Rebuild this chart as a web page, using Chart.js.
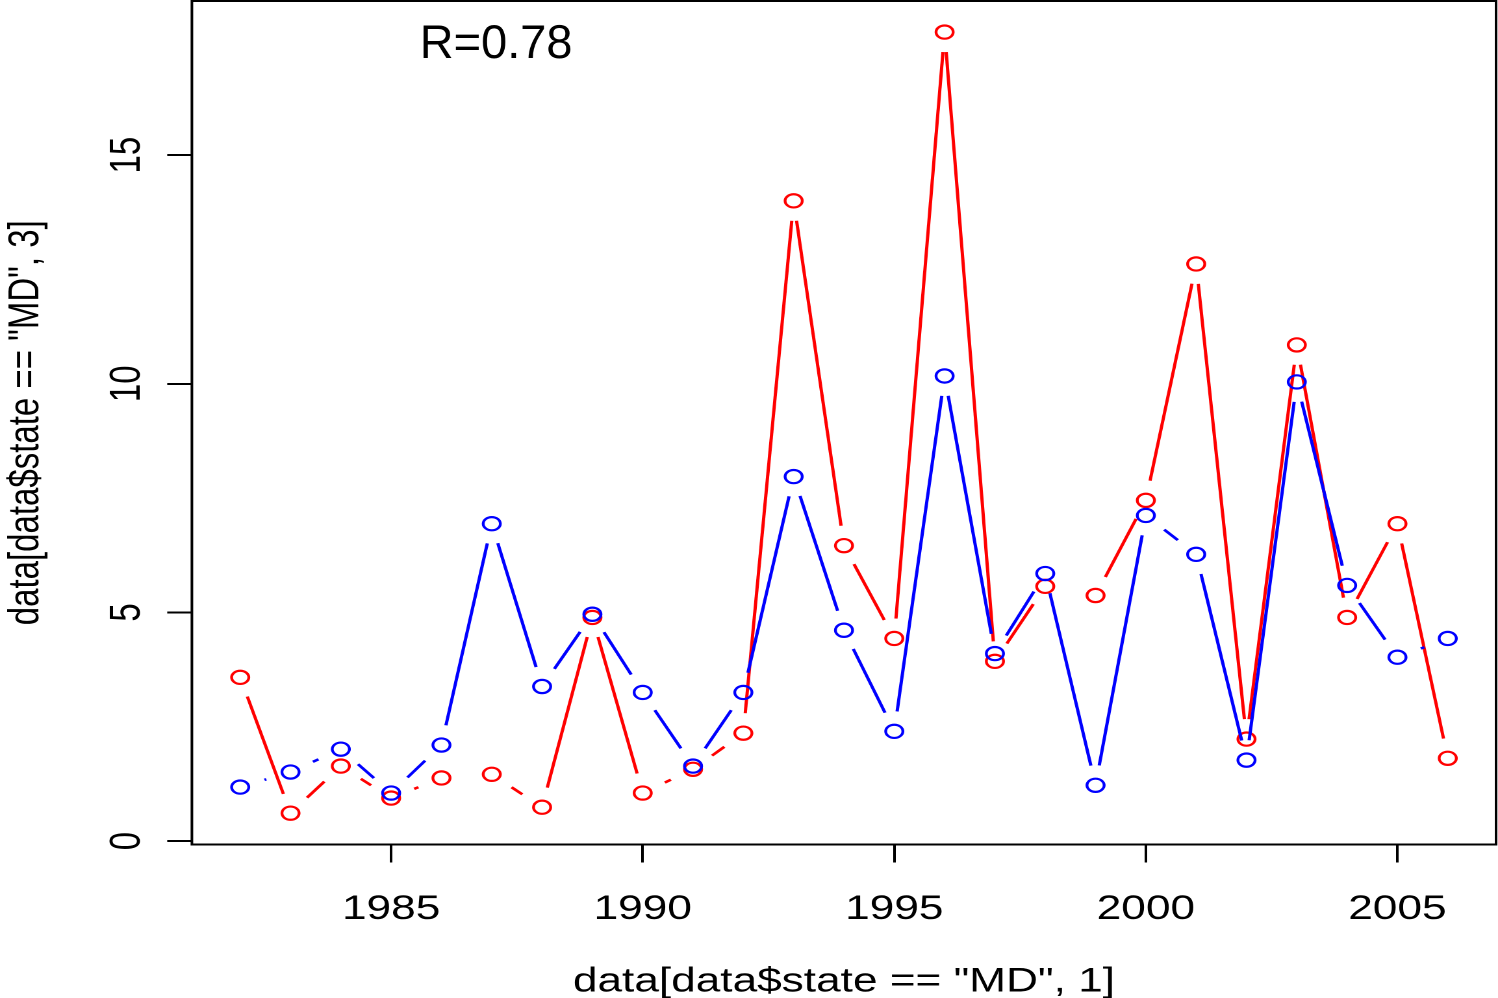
<!DOCTYPE html>
<html>
<head>
<meta charset="utf-8">
<script src="https://cdn.jsdelivr.net/npm/chart.js@4/dist/chart.umd.min.js"></script>
<style>
  html, body { margin: 0; padding: 0; background: #fff; overflow: hidden; }
  #wrap { width: 1153px; height: 998px; transform-origin: 0 0; transform: scaleX(1.29922); }
</style>
</head>
<body>
<div id="wrap"><canvas id="c" width="1153" height="998"></canvas></div>
<script>
// ---- data ----
const years = [1982,1983,1984,1985,1986,1987,1988,1989,1990,1991,1992,1993,1994,1995,1996,1997,1998,1999,2000,2001,2002,2003,2004,2005,2006];
const redValues  = [3.58,0.61,1.64,0.94,1.38,1.46,0.74,4.89,1.05,1.57,2.36,14.0,6.46,4.43,17.69,3.93,5.57,5.37,7.45,12.62,2.23,10.85,4.89,6.94,1.81];
const blueValues = [1.18,1.51,2.01,1.05,2.10,6.94,3.38,4.96,3.25,1.64,3.25,7.97,4.61,2.40,10.17,4.10,5.85,1.22,7.12,6.27,1.77,10.04,5.59,4.02,4.43];
const xTicks = [1985,1990,1995,2000,2005];
const xTickLabels = ["1985","1990","1995","2000","2005"];
const yTicks = [0,5,10,15];
const yTickLabels = ["0","5","10","15"];
const xTitle = 'data[data$state == "MD", 1]';
const yTitle = 'data[data$state == "MD", 3]';
const annotationText = 'R=0.78';

const FONT = "'Liberation Sans', Arial, Helvetica, sans-serif";
const STRETCH = 1.29922;

function pts(vals) { return years.map((y, i) => ({x: y, y: vals[i]})); }

function zeroPad(s) { s.paddingLeft = 0; s.paddingRight = 0; s.paddingTop = 0; s.paddingBottom = 0; }

// R type="b": line segments with gaps around points
const gappedLines = {
  id: 'gappedLines',
  afterDatasetDraw(chart, args) {
    const meta = args.meta;
    const ds = chart.data.datasets[args.index];
    const gap = 20;
    const ctx = chart.ctx;
    const a = chart.chartArea;
    ctx.save();
    ctx.beginPath();
    ctx.rect(a.left, a.top, a.right - a.left, a.bottom - a.top);
    ctx.clip();
    ctx.strokeStyle = ds.borderColor;
    ctx.lineWidth = 2.5;
    ctx.lineCap = 'butt';
    for (let i = 0; i < meta.data.length - 1; i++) {
      const p0 = meta.data[i], p1 = meta.data[i + 1];
      const dx = p1.x - p0.x, dy = p1.y - p0.y;
      const len = Math.hypot(dx, dy);
      if (len <= 2 * gap) continue;
      const ux = dx / len, uy = dy / len;
      ctx.beginPath();
      ctx.moveTo(p0.x + ux * gap, p0.y + uy * gap);
      ctx.lineTo(p1.x - ux * gap, p1.y - uy * gap);
      ctx.stroke();
    }
    ctx.restore();
  }
};

const frameAndText = {
  id: 'frameAndText',
  afterDraw(chart) {
    const ctx = chart.ctx;
    const a = chart.chartArea;
    ctx.save();
    ctx.strokeStyle = '#000';
    ctx.lineWidth = 2;
    ctx.strokeRect(a.left, a.top, a.right - a.left, a.bottom - a.top);
    // annotation text (not stretched in the reference)
    ctx.translate(323, 58);
    ctx.scale(1 / STRETCH, 1);
    ctx.fillStyle = '#000';
    ctx.font = "47px " + FONT;
    ctx.textAlign = 'left';
    ctx.textBaseline = 'alphabetic';
    ctx.fillText(annotationText, 0, 0);
    ctx.restore();
  }
};

new Chart(document.getElementById('c'), {
  type: 'scatter',
  data: {
    datasets: [
      {
        label: 'red',
        data: pts(redValues),
        borderColor: '#ff0000',
        backgroundColor: 'rgba(0,0,0,0)',
        pointBorderColor: '#ff0000',
        pointBackgroundColor: 'rgba(0,0,0,0)',
        pointRadius: 6.6,
        pointBorderWidth: 2.2,
        showLine: false,
        order: 1
      },
      {
        label: 'blue',
        data: pts(blueValues),
        borderColor: '#0000ff',
        backgroundColor: 'rgba(0,0,0,0)',
        pointBorderColor: '#0000ff',
        pointBackgroundColor: 'rgba(0,0,0,0)',
        pointRadius: 6.6,
        pointBorderWidth: 2.2,
        showLine: false,
        order: 0
      }
    ]
  },
  options: {
    responsive: false,
    animation: false,
    devicePixelRatio: 2,
    layout: { autoPadding: false, padding: { left: 0, right: 1.5, top: 1, bottom: 0 } },
    plugins: { legend: { display: false }, tooltip: { enabled: false } },
    scales: {
      x: {
        type: 'linear',
        position: 'bottom',
        min: 1981.04,
        max: 2006.96,
        afterBuildTicks: (s) => { s.ticks = xTicks.map(v => ({value: v})); },
        afterFit: (s) => { s.height = 153.5; zeroPad(s); },
        grid: { drawOnChartArea: false, drawTicks: true, tickLength: 18, tickWidth: 2, tickColor: '#000' },
        border: { display: false },
        ticks: {
          color: '#000',
          font: { family: FONT, size: 34, lineHeight: 1 },
          padding: 30,
          maxRotation: 0, minRotation: 0,
          autoSkip: false,
          callback: (v) => { const i = xTicks.indexOf(v); return i >= 0 ? xTickLabels[i] : ''; }
        },
        title: {
          display: true, text: xTitle, color: '#000',
          font: { family: FONT, size: 34, lineHeight: 1 },
          padding: { top: 0, bottom: -1 }
        }
      },
      y: {
        type: 'linear',
        position: 'left',
        min: -0.075,
        max: 18.37,
        afterBuildTicks: (s) => { s.ticks = yTicks.map(v => ({value: v})); },
        afterFit: (s) => { s.width = 147.7; zeroPad(s); },
        grid: { drawOnChartArea: false, drawTicks: true, tickLength: 19, tickWidth: 2, tickColor: '#000' },
        border: { display: false },
        ticks: {
          color: '#000',
          font: { family: FONT, size: 33, lineHeight: 1 },
          padding: 12,
          minRotation: 90, maxRotation: 90,
          crossAlign: 'center',
          autoSkip: false,
          callback: (v) => { const i = yTicks.indexOf(v); return i >= 0 ? yTickLabels[i] : ''; }
        },
        title: {
          display: true, text: yTitle, color: '#000',
          font: { family: FONT, size: 33, lineHeight: 1 },
          padding: { top: 4, bottom: 0 }
        }
      }
    }
  },
  plugins: [gappedLines, frameAndText]
});
</script>
</body>
</html>
